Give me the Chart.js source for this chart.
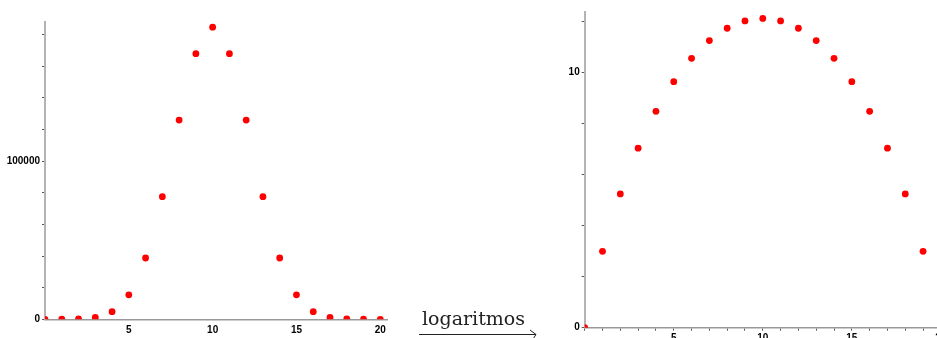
<!DOCTYPE html>
<html lang="es">
<head>
  <meta charset="UTF-8">
  <title>Binomiales y logaritmos</title>
  <script src="https://cdn.jsdelivr.net/npm/chart.js"></script>
  <style>
    html, body { margin:0; padding:0; background:#fff; width:937px; height:338px; overflow:hidden; }
    .box { position:absolute; top:0; overflow:hidden; }
    #leftBox { left:0; width:420px; height:338px; }
    #rightBox { left:500px; width:437px; height:338px; }
    #arrowLabel { position:absolute; left:422px; top:307px; font-family:"DejaVu Serif", serif; font-size:19px; color:#222; }
    #arrow { position:absolute; left:416px; top:328px; }
  </style>
</head>
<body>

<div id="leftBox" class="box"><canvas id="leftChart" width="420" height="338"></canvas></div>
<div id="rightBox" class="box"><canvas id="rightChart" width="480" height="360"></canvas></div>

<div id="arrowLabel">logaritmos</div>
<svg id="arrow" width="126" height="12">
  <line x1="3" y1="6.5" x2="120" y2="6.5" stroke="#222" stroke-width="1"/>
  <polyline points="114,2 120,6.5 117,11" fill="none" stroke="#222" stroke-width="1"/>
</svg>

<script>
// k = 0..20
const kValues = [0, 1, 2, 3, 4, 5, 6, 7, 8, 9, 10, 11, 12, 13, 14, 15, 16, 17, 18, 19, 20];
// left: binomial coefficients C(20,k)
const binomValues = [1, 20, 190, 1140, 4845, 15504, 38760, 77520, 125970, 167960, 184756,
                     167960, 125970, 77520, 38760, 15504, 4845, 1140, 190, 20, 1];
// right: their natural logarithms
const logValues = [0, 2.996, 5.247, 7.039, 8.486, 9.649, 10.565, 11.258, 11.744, 12.031, 12.127,
                   12.031, 11.744, 11.258, 10.565, 9.649, 8.486, 7.039, 5.247, 2.996, 0];

// tick marks and the ones that get a label
const leftYTicks = [0, 20000, 40000, 60000, 80000, 100000, 120000, 140000, 160000, 180000];
const leftYLabels = [0, 100000];
const rightYTicks = [0, 2, 4, 6, 8, 10, 12];
const rightYLabels = [0, 10];
const xTicks = kValues;
const xLabels = [5, 10, 15, 20];

const red = '#ff0000';
const tickFont = { family: 'Liberation Sans, Arial, sans-serif', size: 10, weight: 'bold' };

function points(ys) {
  return kValues.map((k, i) => ({ x: k, y: ys[i] }));
}

function setTicks(list) {
  return axis => { axis.ticks = list.map(v => ({ value: v })); };
}

function labelIf(list) {
  return v => list.includes(v) ? String(v) : '';
}

function makeChart(id, ys, opts) {
  const ctx = document.getElementById(id).getContext('2d');
  return new Chart(ctx, {
    type: 'scatter',
    data: {
      datasets: [{
        data: points(ys),
        backgroundColor: red,
        borderColor: red,
        borderWidth: 0,
        pointRadius: 3.4
      }]
    },
    options: {
      responsive: false,
      animation: false,
      layout: { padding: opts.padding },
      plugins: { legend: { display: false }, tooltip: { enabled: false } },
      scales: {
        x: {
          type: 'linear',
          min: 0,
          max: opts.xMax,
          afterBuildTicks: setTicks(xTicks),
          afterFit: s => { s.height = opts.xHeight; },
          border: { display: true, color: '#999', width: 1.5 },
          grid: { drawOnChartArea: false, drawTicks: true, tickLength: 3, color: opts.xTickColor },
          ticks: {
            autoSkip: false,
            maxRotation: 0,
            padding: 2,
            color: '#000',
            font: tickFont,
            callback: labelIf(xLabels)
          }
        },
        y: {
          type: 'linear',
          min: 0,
          max: opts.yMax,
          afterBuildTicks: setTicks(opts.yTicks),
          afterFit: s => { s.width = opts.yWidth; },
          border: { display: true, color: '#b4b4b4', width: 2 },
          grid: { drawOnChartArea: false, drawTicks: true, tickLength: 3, color: '#555' },
          ticks: {
            autoSkip: false,
            padding: 2,
            color: '#000',
            font: tickFont,
            callback: labelIf(opts.yLabels)
          }
        }
      }
    }
  });
}

makeChart('leftChart', binomValues, {
  padding: { top: 22, right: 33, bottom: 0, left: 0 },
  xMax: 20.4, xHeight: 18.7, xTickColor: 'rgba(0,0,0,0)',
  yMax: 188000, yTicks: leftYTicks, yWidth: 45, yLabels: leftYLabels
});

makeChart('rightChart', logValues, {
  padding: { top: 11.5, right: 32, bottom: 0, left: 0 },
  xMax: 20.4, xHeight: 32.3, xTickColor: '#555',
  yMax: 12.4, yTicks: rightYTicks, yWidth: 84.7, yLabels: rightYLabels
});
</script>
</body>
</html>
